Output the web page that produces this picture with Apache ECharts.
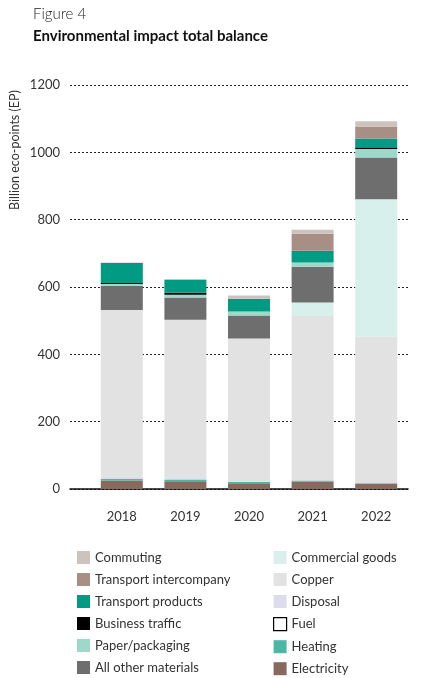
<!DOCTYPE html>
<html><head><meta charset="utf-8">
<script src="https://cdn.jsdelivr.net/npm/echarts@6/dist/echarts.min.js"></script>
<style>html,body{margin:0;padding:0;background:#fff}#c{width:430px;height:678px}</style>
</head><body><div id="c"></div>
<script>
const years = ['2018','2019','2020','2021','2022'];
const yTicks = [0,200,400,600,800,1000,1200];
const electricity = [25, 23, 17, 22, 16];
const heating = [5, 5, 4, 3, 1];
const fuel = [0, 0, 0, 0, 0];
const disposal = [7, 7, 2, 1, 4];
const copper = [495, 468, 424, 488, 432];
const commercialGoods = [0, 0, 0, 40, 408];
const allOtherMaterials = [72, 66, 68, 106, 124];
const paperPackaging = [5, 8, 12, 13, 25];
const businessTraffic = [3, 6, 0, 0, 3];
const transportProducts = [59, 38, 38, 35, 28];
const transportIntercompany = [0, 0, 0, 50, 36];
const commuting = [2, 3, 10, 12, 15];

const seriesDefs = [
  ['Electricity', electricity, '#87695e'],
  ['Heating', heating, '#4db6a5'],
  ['Fuel', fuel, '#ffffff'],
  ['Disposal', disposal, '#dcdcee'],
  ['Copper', copper, '#e2e2e2'],
  ['Commercial goods', commercialGoods, '#d8f0eb'],
  ['All other materials', allOtherMaterials, '#6e6e6e'],
  ['Paper/packaging', paperPackaging, '#9dd9cb'],
  ['Business traffic', businessTraffic, '#000000'],
  ['Transport products', transportProducts, '#009b82'],
  ['Transport intercompany', transportIntercompany, '#a88f86'],
  ['Commuting', commuting, '#cdc3be']
];
const FONT = 'Lato, "Noto Sans", sans-serif';
const legendLeft = ['Commuting','Transport intercompany','Transport products','Business traffic','Paper/packaging','All other materials'];
const legendRight = ['Commercial goods','Copper','Disposal','Fuel','Heating','Electricity'];
function legendData(names){
  return names.map(n => n === 'Fuel'
    ? {name:n, itemStyle:{color:'#ffffff', borderColor:'#000', borderWidth:1.2}}
    : {name:n});
}
const legendBase = {
  orient:'vertical', icon:'rect', itemWidth:13, itemHeight:13, itemGap:9, height:140, width:180,
  textStyle:{fontFamily:FONT, fontSize:13, color:'#333'}, selectedMode:false
};
const chart = echarts.init(document.getElementById('c'), null, {renderer:'canvas'});
chart.setOption({
  animation:false,
  title:[
    {text:'Figure 4', left:28, top:2, textStyle:{fontFamily:FONT, fontSize:15, fontWeight:300, color:'#222'}},
    {text:'Environmental impact total balance', left:28, top:24, textStyle:{fontFamily:FONT, fontSize:15, fontWeight:'bold', color:'#111'}}
  ],
  legend:[
    Object.assign({}, legendBase, {left:72, top:546, data:legendData(legendLeft)}),
    Object.assign({}, legendBase, {left:268, top:546, data:legendData(legendRight)})
  ],
  graphic:[{
    type:'text', x:15, y:150, rotation:Math.PI/2,
    style:{text:'Billion eco-points (EP)', fontFamily:FONT, fontSize:12.5, fill:'#333', textAlign:'center', textVerticalAlign:'middle'}
  }],
  grid:[
    {left:70, right:22, top:85, bottom:189},
    {left:90, right:22, top:85, bottom:189}
  ],
  xAxis:[
    {type:'category', gridIndex:0, data:[''], axisLine:{show:true, lineStyle:{color:'#111', width:1.5}},
     axisTick:{show:false}, axisLabel:{show:false}},
    {type:'category', gridIndex:1, data:years, axisLine:{show:false}, axisTick:{show:false},
     axisLabel:{margin:21, fontFamily:FONT, fontSize:13, color:'#333'}}
  ],
  yAxis:[
    {type:'value', gridIndex:0, min:yTicks[0], max:yTicks[yTicks.length-1], interval:yTicks[1]-yTicks[0],
     axisLine:{show:false}, axisTick:{show:false},
     axisLabel:{margin:10, fontFamily:FONT, fontSize:13, color:'#333', formatter:v => String(v)},
     splitLine:{show:true, lineStyle:{color:'#222', type:[2,2], width:1}}},
    {type:'value', gridIndex:1, min:yTicks[0], max:yTicks[yTicks.length-1], interval:yTicks[1]-yTicks[0], show:false, splitLine:{show:false}}
  ],
  series: seriesDefs.map(([name, data, color]) => ({
    name, type:'bar', stack:'total', xAxisIndex:1, yAxisIndex:1, data,
    barWidth:42, itemStyle:{color}, emphasis:{disabled:true}
  }))
});
</script></body></html>
